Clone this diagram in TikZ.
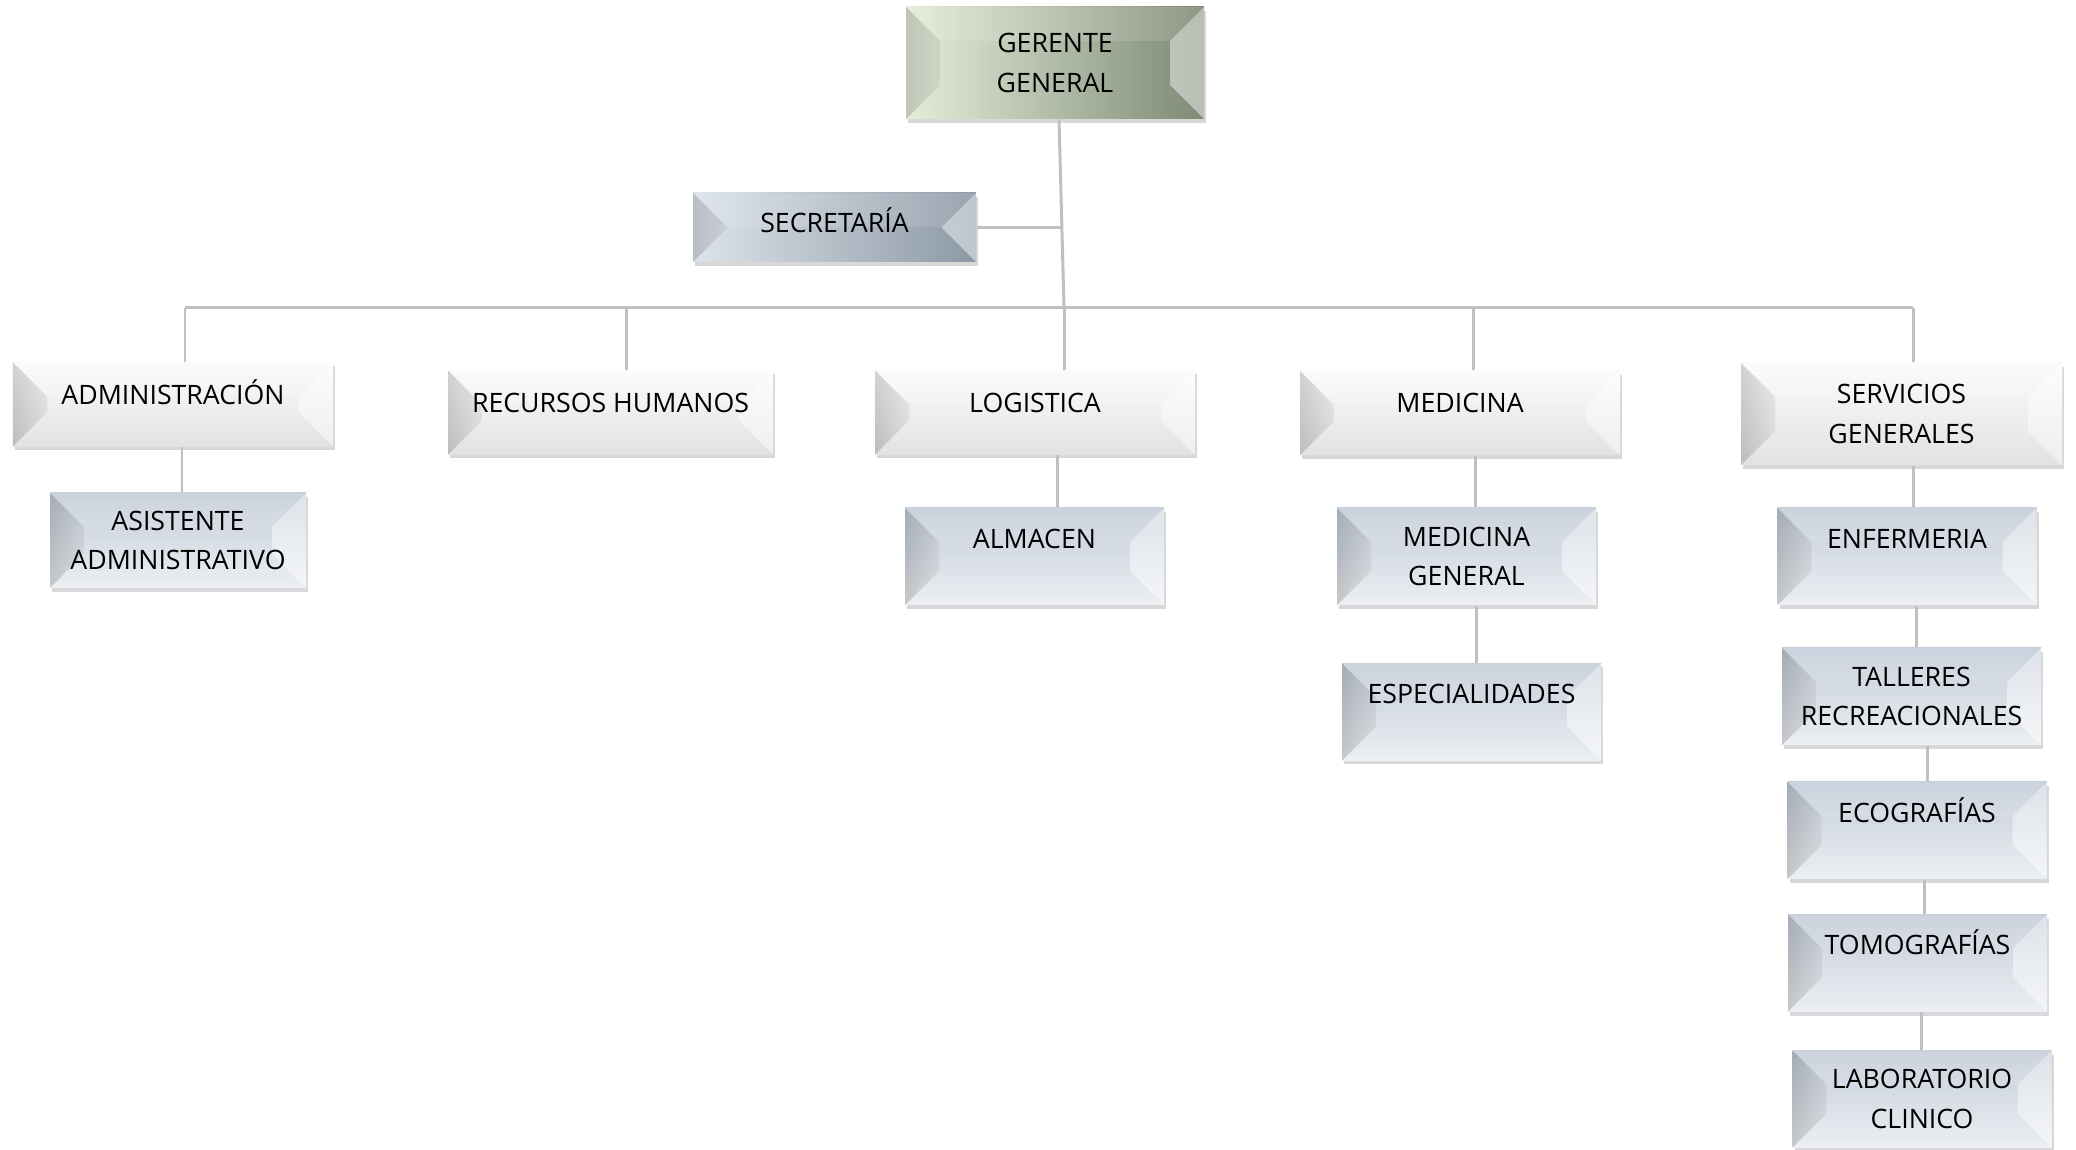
\documentclass[tikz,border=0pt]{standalone}
\usepackage{fontspec}
\setmainfont{Open Sans}
\usetikzlibrary{calc,shadows}

\definecolor{headL}{HTML}{E3EDDA}
\definecolor{headR}{HTML}{7E8A76}
\definecolor{secL}{HTML}{DCE3EA}
\definecolor{secR}{HTML}{8C99A5}
\definecolor{deptT}{HTML}{FBFBFB}
\definecolor{deptB}{HTML}{E2E2E2}
\definecolor{subT}{HTML}{C4CDD9}
\definecolor{subB}{HTML}{ECEFF3}
\definecolor{linegray}{HTML}{C0C0C0}

\newcommand{\bv}{0.34}

\tikzset{
  bevel/.style={path picture={
    \coordinate (nw) at (path picture bounding box.north west);
    \coordinate (ne) at (path picture bounding box.north east);
    \coordinate (sw) at (path picture bounding box.south west);
    \coordinate (se) at (path picture bounding box.south east);
    \shade[left color=black, right color=black!40, opacity=.16] (nw) -- ++(\bv,-\bv) -- ($(sw)+(\bv,\bv)$) -- (sw) -- cycle;
    \fill[white,opacity=.45] (ne) -- ++(-\bv,-\bv) -- ($(se)+(-\bv,\bv)$) -- (se) -- cycle;
    \fill[white,opacity=.12] (nw) -- (ne) -- ++(-\bv,-\bv) -- ($(nw)+(\bv,-\bv)$) -- cycle;
  }},
  box/.style={rectangle, inner sep=2pt, align=center, text=black,
    font=\fontsize{7.6}{11.3}\selectfont, bevel,
    drop shadow={shadow xshift=0.02cm, shadow yshift=-0.04cm, opacity=0.22, fill=black!70}},
  chief/.style={box, left color=headL, right color=headR, minimum width=2.98cm, minimum height=1.12cm},
  staff/.style={box, left color=secL, right color=secR, minimum width=2.83cm, minimum height=0.69cm,
    text height=6pt, text depth=3pt},
  dept/.style={box, top color=deptT, bottom color=deptB, minimum width=3.2cm, minimum height=0.84cm},
  subdept/.style={box, top color=subT, bottom color=subB, minimum width=2.59cm, minimum height=0.97cm},
  oneline/.style={text height=6pt, text depth=6pt},
  onelow/.style={text height=6pt, text depth=10.8pt},
  link/.style={draw=linegray, line width=0.85pt},
}

\begin{document}
\begin{tikzpicture}

    \useasboundingbox (0,0) rectangle (20.76,-11.5);

    % Gerencia
    \node[chief] (gerente) at (10.55,-0.63) {GERENTE\\GENERAL};
    \node[staff] (secretaria) at (8.345,-2.275) {SECRETARÍA};

    % Areas
    \node[dept, oneline] (admin) at (1.73,-4.045) {ADMINISTRACIÓN};
    \node[dept, oneline, minimum width=3.25cm] (rrhh) at (6.105,-4.125) {RECURSOS HUMANOS};
    \node[dept, oneline] (logistica) at (10.35,-4.125) {LOGISTICA};
    \node[dept, oneline] (medicina) at (14.60,-4.13) {MEDICINA};
    \node[dept, minimum width=3.21cm, minimum height=1.02cm] (servicios) at (19.015,-4.14) {SERVICIOS\\GENERALES};

    % Sub areas
    \node[subdept, minimum width=2.56cm, minimum height=0.95cm] (asistente) at (1.78,-5.405) {ASISTENTE\\ADMINISTRATIVO};
    \node[subdept, onelow] (almacen) at (10.345,-5.565) {ALMACEN};
    \node[subdept] (medgen) at (14.665,-5.565) {MEDICINA\\GENERAL};
    \node[subdept, onelow] (especial) at (14.715,-7.12) {ESPECIALIDADES};
    \node[subdept, onelow] (enfermeria) at (19.07,-5.565) {ENFERMERIA};
    \node[subdept] (talleres) at (19.115,-6.965) {TALLERES\\RECREACIONALES};
    \node[subdept, onelow] (ecografias) at (19.17,-8.305) {ECOGRAFÍAS};
    \node[subdept, onelow] (tomografias) at (19.175,-9.63) {TOMOGRAFÍAS};
    \node[subdept] (laboratorio) at (19.22,-10.99) {LABORATORIO\\CLINICO};

    % Bus
    \coordinate (t1) at (1.85,-3.08);
    \coordinate (t2) at (6.26,-3.08);
    \coordinate (t3) at (10.64,-3.08);
    \coordinate (t4) at (14.73,-3.08);
    \coordinate (t5) at (19.13,-3.08);

    \coordinate (g0) at ([xshift=0.04cm]gerente.south);
    \draw[link] (g0) -- (t3);
    \coordinate (sj) at ($(g0)!(secretaria.east)!(t3)$);
    \draw[link] (secretaria.east) -- (secretaria.east -| sj);
    \draw[link] (t1) -- (t5);
    \foreach \t/\n in {t1/admin, t2/rrhh, t3/logistica, t4/medicina, t5/servicios}
        \draw[link] (\t) -- (\t |- \n.north);

    % Columns
    \foreach \a/\b/\dx in {admin/asistente/0.09, logistica/almacen/0.22, medicina/medgen/0.15,
                           medgen/especial/0.095, servicios/enfermeria/0.115, enfermeria/talleres/0.09,
                           talleres/ecografias/0.155, ecografias/tomografias/0.07, tomografias/laboratorio/0.035}
        \draw[link] ([xshift=\dx cm]\a.south) -- ([xshift=\dx cm]\a.south |- \b.north);

\end{tikzpicture}
\end{document}
